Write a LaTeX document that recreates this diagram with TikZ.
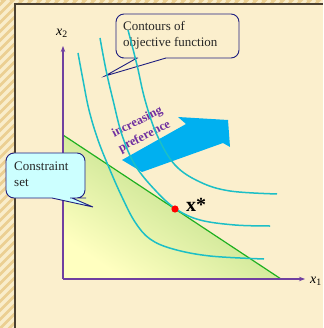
\documentclass[tikz,border=0pt]{standalone}
\usepackage{fontspec}
\setmainfont{Liberation Serif}
\usetikzlibrary{arrows.meta}
\definecolor{cream}{HTML}{FBEFCD}
\definecolor{gold}{HTML}{EBCF92}
\definecolor{goldlight}{HTML}{F9EDCB}
\definecolor{framec}{HTML}{4A4030}
\definecolor{axisc}{HTML}{7040A0}
\definecolor{contourc}{HTML}{1CBFC6}
\definecolor{clinec}{HTML}{20B020}
\definecolor{navy}{HTML}{1F1F80}
\definecolor{cfill}{HTML}{CCFFFF}
\definecolor{arrowblue}{HTML}{00B0F0}
\definecolor{purp}{HTML}{7030A0}
\definecolor{yel}{HTML}{FFFFC0}
\definecolor{grn}{HTML}{ACD67C}
\tikzset{
  contourline/.style={draw=contourc, line width=1.5pt},
  axisline/.style={draw=axisc, line width=1.4pt, -{Stealth[length=6pt,width=4.5pt]}},
  callout/.style={draw=navy, line width=0.9pt},
  calltext/.style={inner sep=0pt, anchor=west, align=left, text=black!85, font=\fontsize{13}{16}\selectfont},
}
\begin{document}
\begin{tikzpicture}[x=1pt, y=-1pt]
\useasboundingbox (0,0) rectangle (323,328);
% background
\fill[cream] (0,0) rectangle (323,328);
\begin{scope}
  \clip (0,0) rectangle (15,328) (15,0) rectangle (323,4);
  \fill[gold] (0,0) rectangle (323,328);
  \foreach \i in {-340,-331,...,30} \draw[goldlight, line width=3.5pt] (\i,340) -- ++(340,-340);
\end{scope}
\draw[framec, line width=1.6pt] (15,328) -- (15,4) -- (323,4);

% constraint set
\shade[bottom color=yel, top color=grn, shading angle=-33.4] (63,135) -- (281,279) -- (63,279) -- cycle;
\draw[clinec, line width=1.2pt] (63,135) -- (281,279);

% axes
\coordinate (O) at (63,279);
\coordinate (ytip) at (63,46);
\coordinate (xtip) at (305,279);
\draw[axisline] (O) -- (ytip);
\draw[axisline] (O) -- (xtip);
\node[inner sep=0pt, font=\fontsize{14}{16}\selectfont] (x2) at (62,33) {\textit{x}\textsubscript{2}};
\node[inner sep=0pt, font=\fontsize{14}{16}\selectfont] (x1) at (316,281) {\textit{x}\textsubscript{1}};

% contours callout
\draw[callout, fill=cream] (105,76) -- (166,58) -- (173,58) [rounded corners=8pt] -- (239,58) -- (239,14) -- (116,14) -- (116,58) -- (130,58) [sharp corners] -- (137,58) -- cycle;
\node[calltext] (ctext) at (123,35) {Contours of\\objective function};

% preference arrow
\fill[arrowblue] (122,160) -- (186,124) -- (178,117) -- (228,120) -- (230,147) -- (223,143) -- (142,172) -- cycle;
\node[rotate=27, inner sep=0pt, align=center, text=purp, font=\bfseries\fontsize{12.5}{16}\selectfont] (pref) at (141,129.5) {increasing\\preference};

% contours
\draw[contourline] plot[smooth, tension=0.6] coordinates {(78,53) (83,80) (89,110) (98,140) (110,170) (122,197) (135,222) (150,239) (173,249) (210,256) (264,259)};
\draw[contourline] plot[smooth, tension=0.6] coordinates {(100,38) (106,70) (113,100) (122,135) (135,165) (155,190) (176,209) (200,220) (235,225) (270,226)};
\draw[contourline] plot[smooth, tension=0.6] coordinates {(128,30) (137,65) (145,100) (157,135) (175,165) (200,182) (230,191) (277,194)};

% optimum
\fill[red] (175,209) circle (3.6pt);
\node[inner sep=0pt, anchor=base west, font=\bfseries\fontsize{20}{22}\selectfont] (xstar) at (186,211.5) {x*};

% constraint callout
\draw[callout, fill=cfill] (93,207) -- (52,198) -- (45,198) [rounded corners=8pt] -- (6,198) -- (6,153) -- (85,153) -- (85,198) -- (78,198) [sharp corners] -- (72,198) -- cycle;
\node[calltext] (stext) at (14,174) {Constraint\\set};
\end{tikzpicture}
\end{document}
